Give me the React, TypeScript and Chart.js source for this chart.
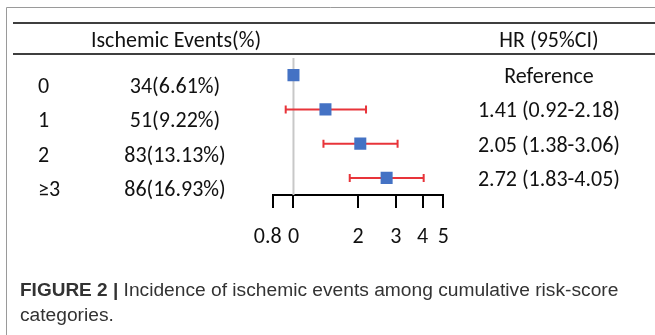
import React, { useEffect, useRef } from "react";
import { Chart, registerables } from "chart.js";

Chart.register(...registerables);

const groups = ["0", "1", "2", "≥3"];
const events = ["34(6.61%)", "51(9.22%)", "83(13.13%)", "86(16.93%)"];
const hrLabels = ["Reference", "1.41 (0.92-2.18)", "2.05 (1.38-3.06)", "2.72 (1.83-4.05)"];
const hrValues = [1, 1.41, 2.05, 2.72];
const ciLow: (number | null)[] = [null, 0.92, 1.38, 1.83];
const ciHigh: (number | null)[] = [null, 2.18, 3.06, 4.05];
const tickValues = [0.8, 1, 2, 3, 4, 5];
const tickLabels = ["0.8  ", "0", "2", "3", "4", "5"];
const headerLeft = "Ischemic Events(%)";
const headerRight = "HR (95%CI)";
const captionBold = "FIGURE 2 |";
const captionLine1 = " Incidence of ischemic events among cumulative risk-score";
const captionLine2 = "categories.";

const FONT = "Carlito, Lato, sans-serif";
const FS = 22;
const CAP_FONT = "'Liberation Sans', Arial, sans-serif";

const tablePlugin = {
  id: "tablePlugin",
  afterDraw(chart: any) {
    const ctx = chart.ctx as CanvasRenderingContext2D;
    const y = chart.scales.y;
    ctx.save();
    // frame
    ctx.strokeStyle = "#9a9a9a";
    ctx.lineWidth = 1;
    ctx.beginPath();
    ctx.moveTo(6.5, 335);
    ctx.lineTo(6.5, 7.5);
    ctx.lineTo(655, 7.5);
    ctx.stroke();
    // header rules
    ctx.strokeStyle = "#000";
    ctx.lineWidth = 1.5;
    ctx.beginPath();
    ctx.moveTo(13, 23);
    ctx.lineTo(655, 23);
    ctx.moveTo(13, 54);
    ctx.lineTo(655, 54);
    ctx.stroke();
    // headers
    ctx.fillStyle = "#111";
    ctx.font = `${FS}px ${FONT}`;
    ctx.textAlign = "center";
    ctx.textBaseline = "alphabetic";
    ctx.fillText(headerLeft, 176, 47);
    ctx.fillText(headerRight, 549, 47);
    groups.forEach((g, i) => {
      const py = y.getPixelForValue(i);
      ctx.textAlign = "left";
      ctx.fillText(g, 38, py + 18);
      ctx.textAlign = "center";
      ctx.fillText(events[i], 175, py + 18);
      ctx.fillText(hrLabels[i], 549, py + 8);
    });
    // caption
    ctx.fillStyle = "#333";
    ctx.textAlign = "left";
    ctx.font = `bold 19px ${CAP_FONT}`;
    ctx.fillText(captionBold, 20, 296);
    const bw = ctx.measureText(captionBold).width;
    ctx.font = `19.2px ${CAP_FONT}`;
    ctx.fillText(captionLine1, 20 + bw, 296);
    ctx.fillText(captionLine2, 20, 321);
    ctx.restore();
  },
};

export default function App() {
  const ref = useRef<HTMLCanvasElement | null>(null);
  useEffect(() => {
    if (!ref.current) return;
    const red = "#e8343a";
    const blue = "#4472c4";
    const datasets: any[] = [
      {
        label: "HR",
        data: hrValues.map((v, i) => ({ x: v, y: i })),
        showLine: false,
        pointStyle: "rect",
        pointRadius: 8.5,
        pointBackgroundColor: blue,
        pointBorderColor: blue,
        pointBorderWidth: 0,
      },
    ];
    hrValues.forEach((_, i) => {
      if (ciLow[i] == null || ciHigh[i] == null) return;
      datasets.push({
        label: "CI" + i,
        data: [
          { x: ciLow[i], y: i },
          { x: ciHigh[i], y: i },
        ],
        showLine: true,
        borderColor: red,
        borderWidth: 2,
        pointStyle: "line",
        pointRotation: 90,
        pointRadius: 4,
        pointBorderColor: red,
        pointBorderWidth: 2,
      });
    });
    datasets.push({
      label: "ref",
      data: [
        { x: 1, y: -0.5 },
        { x: 1, y: 3.5 },
      ],
      showLine: true,
      borderColor: "#c8c8c8",
      borderWidth: 2,
      pointRadius: 0,
    });
    const chart = new Chart(ref.current, {
      type: "scatter",
      data: { datasets },
      options: {
        animation: false,
        responsive: false,
        layout: { padding: { left: 272.7, right: 211.7, top: 58, bottom: 80 } },
        plugins: { legend: { display: false }, tooltip: { enabled: false } },
        scales: {
          x: {
            type: "logarithmic",
            min: 0.8,
            max: 5,
            afterBuildTicks: (scale: any) => {
              scale.ticks = tickValues.map((v) => ({ value: v }));
            },
            afterFit: (scale: any) => {
              scale.height = 60;
            },
            grid: {
              display: true,
              drawOnChartArea: false,
              drawTicks: true,
              tickLength: 13,
              color: "#000",
              lineWidth: 2,
            },
            border: { display: true, color: "#000", width: 2 },
            ticks: {
              autoSkip: false,
              maxRotation: 0,
              padding: 16,
              color: "#111",
              font: { family: FONT, size: FS },
              callback: (_v: any, idx: number) => tickLabels[idx],
            },
          },
          y: {
            type: "linear",
            min: -0.5,
            max: 3.5,
            reverse: true,
            display: false,
          },
        },
      },
      plugins: [tablePlugin],
    });
    return () => chart.destroy();
  }, []);
  return (
    <div style={{ position: "fixed", left: 0, top: 0, width: 655, height: 335, background: "#fff" }}>
      <canvas ref={ref} width={655} height={335} style={{ width: 655, height: 335, display: "block" }} />
    </div>
  );
}
